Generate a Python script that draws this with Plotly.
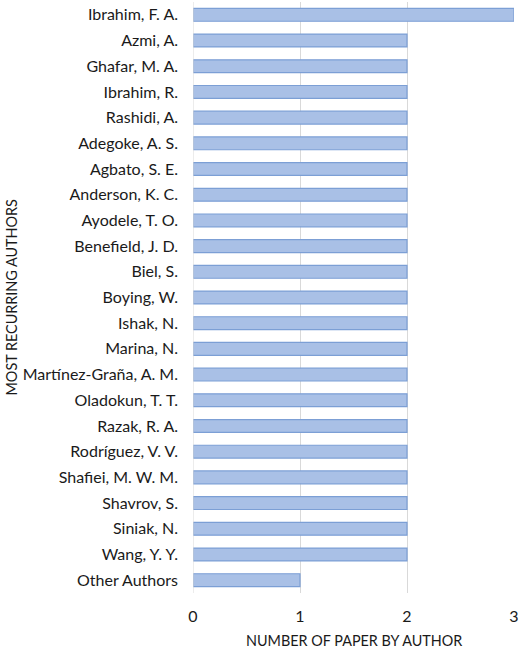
import plotly.graph_objects as go

authors = ["Ibrahim, F. A.", "Azmi, A.", "Ghafar, M. A.", "Ibrahim, R.", "Rashidi, A.",
           "Adegoke, A. S.", "Agbato, S. E.", "Anderson, K. C.", "Ayodele, T. O.",
           "Benefield, J. D.", "Biel, S.", "Boying, W.", "Ishak, N.", "Marina, N.",
           "Martínez-Graña, A. M.", "Oladokun, T. T.", "Razak, R. A.", "Rodríguez, V. V.",
           "Shafiei, M. W. M.", "Shavrov, S.", "Siniak, N.", "Wang, Y. Y.", "Other Authors"]
papers = [3, 2, 2, 2, 2, 2, 2, 2, 2, 2, 2, 2, 2, 2, 2, 2, 2, 2, 2, 2, 2, 2, 1]
x_ticks = [0, 1, 2, 3]

font = "Lato"
txt = "#1a1a1a"
fig = go.Figure(go.Bar(
    y=authors, x=papers, orientation="h", width=0.5,
    marker=dict(color="#a9c0e6", line=dict(color="#7c9fd5", width=1.2)),
))
fig.update_layout(
    width=520, height=649, margin=dict(l=193, r=6, t=2, b=56),
    plot_bgcolor="white", paper_bgcolor="white", showlegend=False,
    font=dict(family=font, size=16, color=txt),
    bargap=0.5,
)
fig.update_xaxes(range=[0, 3], tickvals=x_ticks, showgrid=True, gridcolor="#d9d9d9",
                 gridwidth=1, zeroline=False, showline=False, ticks="",
                 tickfont=dict(size=16, color=txt), ticklabelstandoff=12)
fig.update_yaxes(categoryorder="array", categoryarray=authors, autorange="reversed",
                 showgrid=False, zeroline=False, showline=False, ticks="",
                 ticklabelstandoff=14, tickfont=dict(size=16, color=txt))
fig.add_shape(type="line", xref="x", yref="paper", x0=0, x1=0, y0=0, y1=1,
              line=dict(color="#d9d9d9", width=1))
fig.add_annotation(text="NUMBER OF PAPER BY AUTHOR", xref="paper", yref="paper",
                   x=0.5, y=0, yshift=-47, showarrow=False, yanchor="middle",
                   font=dict(size=14.4, color=txt))
fig.add_annotation(text="MOST RECURRING AUTHORS", xref="paper", yref="paper",
                   x=0, xshift=-182, y=0.5, textangle=-90, showarrow=False,
                   xanchor="center", font=dict(size=14.4, color=txt))
fig.write_html("out.html")
